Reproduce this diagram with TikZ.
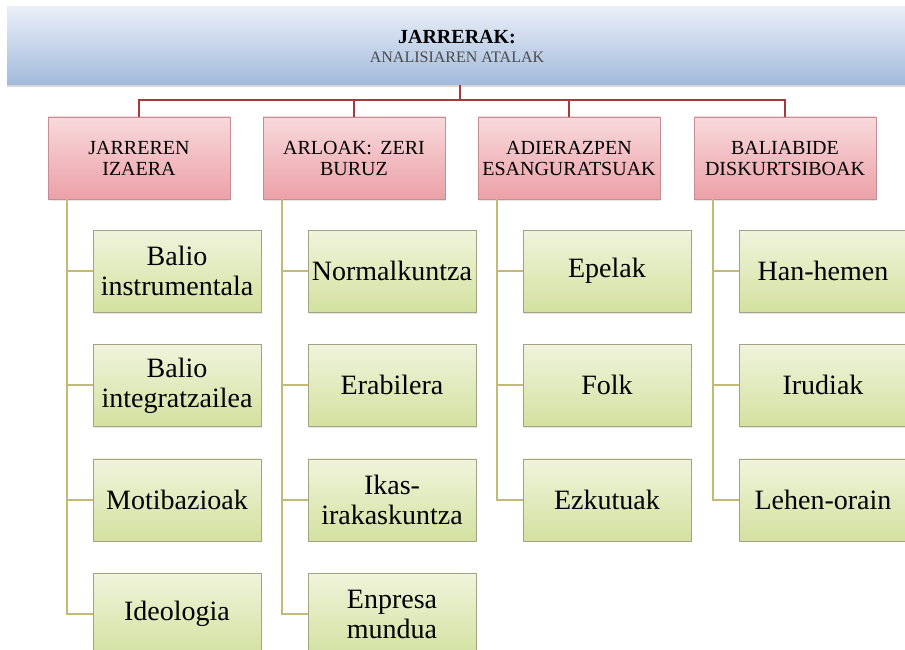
\documentclass[tikz,border=0pt]{standalone}
\usepackage{fontspec}
\setmainfont{Liberation Serif}
\usepackage{tikz}
\usetikzlibrary{positioning,calc,shadows}

\definecolor{bannerTop}{HTML}{E9EFF8}
\definecolor{bannerMid}{HTML}{CFDBEE}
\definecolor{bannerBot}{HTML}{A2BADB}
\definecolor{catTop}{HTML}{F8D9DC}
\definecolor{catBot}{HTML}{EBA1A7}
\definecolor{catBorder}{HTML}{C48D93}
\definecolor{itemTop}{HTML}{F0F4DC}
\definecolor{itemBot}{HTML}{D3E1A0}
\definecolor{itemBorder}{HTML}{A3A283}
\definecolor{lineRed}{HTML}{A33B3E}
\definecolor{lineOlive}{HTML}{C4BA78}
\definecolor{subGray}{HTML}{4A4A4A}

\tikzset{
    banner/.style={top color=bannerTop, middle color=bannerMid, bottom color=bannerBot,
        minimum width=900pt, minimum height=78pt, align=center,
        font=\fontsize{20}{21}\selectfont,
        drop shadow={opacity=0.3, shadow xshift=0pt, shadow yshift=-2pt}},
    catbox/.style={draw=catBorder, top color=catTop, bottom color=catBot,
        minimum width=182pt, minimum height=82pt, align=center,
        font=\fontsize{20}{21}\selectfont,
        drop shadow={opacity=0.2, shadow xshift=1pt, shadow yshift=-1.5pt}},
    itembox/.style={draw=itemBorder, top color=itemTop, bottom color=itemBot,
        minimum width=168pt, minimum height=82pt, align=center,
        font=\fontsize{28}{30}\selectfont,
        drop shadow={opacity=0.2, shadow xshift=1pt, shadow yshift=-1.5pt}},
    redline/.style={draw=lineRed, line width=2.5pt},
    oliveline/.style={draw=lineOlive, line width=2pt}
}

\begin{document}
\begin{tikzpicture}[x=1pt, y=-1pt]
    \useasboundingbox[fill=white] (0,0) rectangle (905,650);

    % Title banner
    \node[banner] (title) at (457,46)
        {\textbf{JARRERAK:}\\[-2pt]
         {\fontsize{16}{18}\selectfont\color{subGray}ANALISIAREN ATALAK}};

    % Categories
    \node[catbox] (izaera) at (139,158) {JARREREN\\IZAERA};
    \node[catbox] (arloak) at (354,158) {ARLOAK:\, ZERI\\BURUZ};
    \node[catbox] (adierazpen) at (569,158) {ADIERAZPEN\\ESANGURATSUAK};
    \node[catbox] (baliabide) at (785,158) {BALIABIDE\\DISKURTSIBOAK};

    % Items
    \node[itembox] (izaera1) at (177,271) {Balio\\instrumentala};
    \node[itembox, below=32pt of izaera1] (izaera2) {Balio\\integratzailea};
    \node[itembox, below=32pt of izaera2] (izaera3) {Motibazioak};
    \node[itembox, below=32pt of izaera3] (izaera4) {Ideologia};

    \node[itembox] (arloak1) at (392,271) {Normalkuntza};
    \node[itembox, below=32pt of arloak1] (arloak2) {Erabilera};
    \node[itembox, below=32pt of arloak2] (arloak3) {Ikas-\\irakaskuntza};
    \node[itembox, below=32pt of arloak3] (arloak4) {Enpresa\\mundua};

    \node[itembox] (adierazpen1) at (607,271) {Epelak};
    \node[itembox, below=32pt of adierazpen1] (adierazpen2) {Folk};
    \node[itembox, below=32pt of adierazpen2] (adierazpen3) {Ezkutuak};

    \node[itembox] (baliabide1) at (823,271) {Han-hemen};
    \node[itembox, below=32pt of baliabide1] (baliabide2) {Irudiak};
    \node[itembox, below=32pt of baliabide2] (baliabide3) {Lehen-orain};

    % Connectors
    \coordinate (hub) at (460,100);
    \draw[redline] (hub |- title.south) -- (hub);
    \foreach \p in {izaera, arloak, adierazpen, baliabide}
        \draw[redline] (hub) -| (\p.north);

    \foreach \p/\n in {izaera/4, arloak/4, adierazpen/3, baliabide/3}
        \foreach \i in {1,...,\n}
            \draw[oliveline] ([xshift=19pt]\p.south west) |- (\p\i.west);
\end{tikzpicture}
\end{document}
